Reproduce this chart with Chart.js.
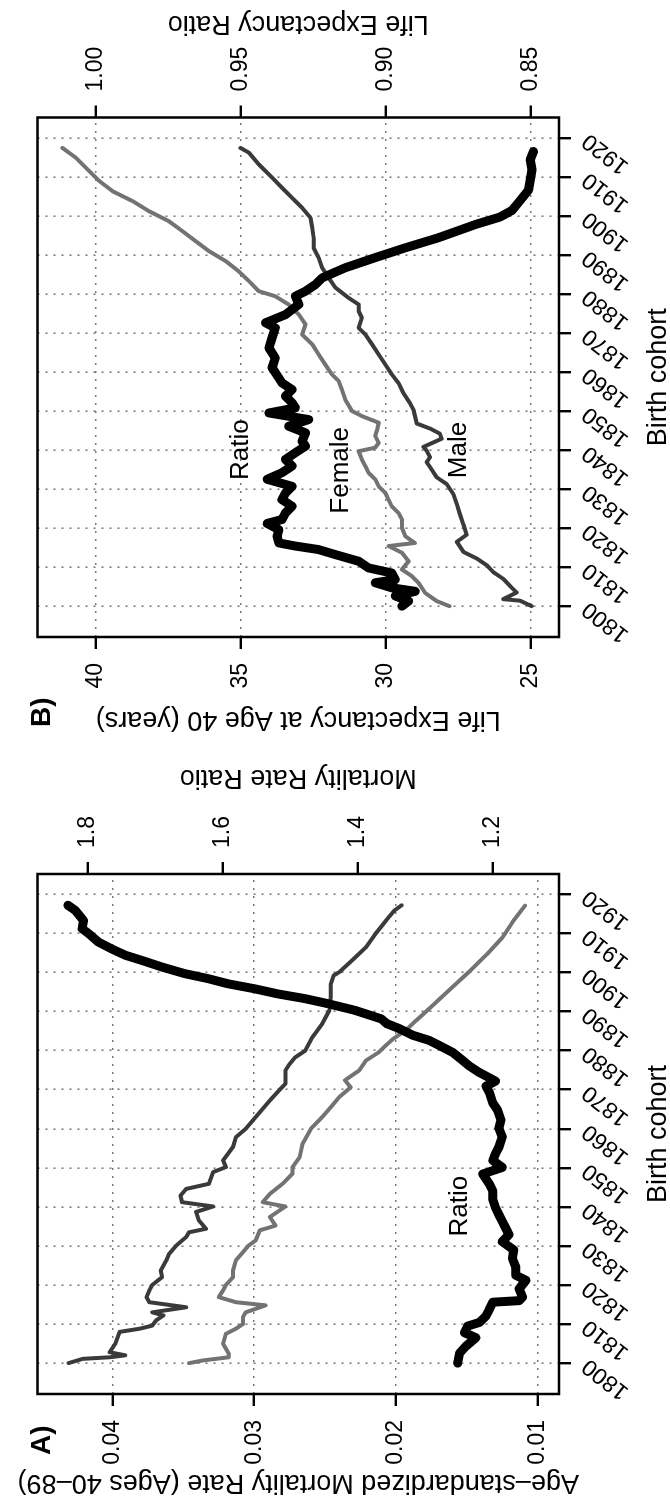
<!DOCTYPE html>
<html>
<head>
<meta charset="utf-8">
<script src="https://cdn.jsdelivr.net/npm/chart.js@4.4.0/dist/chart.umd.min.js"></script>
<style>
html,body{margin:0;padding:0;background:#fff;overflow:hidden;width:670px;height:1503px;}
#land{position:absolute;left:0;top:0;width:1503px;height:670px;transform-origin:0 0;transform:translate(0,1503px) rotate(-90deg);background:#fff;}
#land canvas{position:absolute;top:0;}
#cA{left:0;}
#cB{left:751px;}
</style>
</head>
<body>
<div id="land">
<canvas id="cA" width="751" height="670"></canvas>
<canvas id="cB" width="752" height="670"></canvas>
</div>
<script>
// ---------- tick labels ----------
const yearTicks = [1800,1810,1820,1830,1840,1850,1860,1870,1880,1890,1900,1910,1920];
const mortTicks = [0.01,0.02,0.03,0.04];
const mrrTicks = [1.2,1.4,1.6,1.8];
const leTicks = [25,30,35,40];
const lerTicks = [0.85,0.90,0.95,1.00];

// ---------- Panel A: age-standardized mortality rate (ages 40-89) ----------
const maleMortality = [[1800,0.0431],[1801.1,0.0421],[1801.5,0.0402],[1802,0.0391],[1802.8,0.0402],[1805,0.0398],[1808,0.0395],[1808.8,0.0381],[1809.6,0.0372],[1811,0.0369],[1812.2,0.0364],[1813,0.0372],[1814.3,0.0348],[1815.6,0.0374],[1816.9,0.0376],[1818.6,0.0374],[1820,0.0372],[1822,0.0365],[1823.7,0.0366],[1826.3,0.0362],[1828,0.0360],[1830.1,0.0355],[1832.3,0.0348],[1833.5,0.0346],[1834.4,0.0334],[1836.5,0.0339],[1838.7,0.0341],[1840.1,0.0329],[1841.2,0.0351],[1842.9,0.0352],[1844.6,0.0348],[1845.9,0.0332],[1848.9,0.0329],[1850.2,0.0320],[1851.9,0.0322],[1855.3,0.0315],[1857.8,0.0313],[1860,0.0306],[1863,0.0299],[1865.1,0.0294],[1867.2,0.0289],[1870,0.0282],[1871.5,0.0278],[1874.9,0.0278],[1876.6,0.0275],[1878.3,0.0271],[1880,0.0264],[1883.4,0.0259],[1886.9,0.0252],[1890.3,0.0247],[1893.7,0.0246],[1897.1,0.0246],[1899.2,0.0244],[1900.1,0.0240],[1903.1,0.0231],[1906.5,0.0221],[1910.1,0.0214],[1913.3,0.0207],[1915.9,0.0201],[1917.2,0.0196]];
const femaleMortality = [[1800,0.0346],[1800.7,0.0336],[1801.5,0.0318],[1802.4,0.0318],[1805,0.0322],[1807.5,0.0320],[1808.8,0.0313],[1810,0.0308],[1811.8,0.0308],[1813,0.0306],[1814.8,0.0292],[1815.6,0.0313],[1816.9,0.0325],[1818.6,0.0322],[1820,0.0320],[1822,0.0315],[1823.7,0.0315],[1826.3,0.0313],[1828.4,0.0308],[1830.1,0.0304],[1831.4,0.0299],[1834,0.0296],[1835.2,0.0285],[1837.4,0.0289],[1840.1,0.0278],[1841.2,0.0294],[1843.3,0.0289],[1845.9,0.0280],[1848.5,0.0273],[1850.2,0.0273],[1852.7,0.0268],[1856.1,0.0266],[1860,0.0260],[1863,0.0252],[1865.5,0.0246],[1868.1,0.0240],[1870.6,0.0232],[1872.4,0.0236],[1874.9,0.0226],[1877.5,0.0221],[1879.6,0.0212],[1881.7,0.0206],[1883,0.0202],[1885.2,0.0193],[1887.3,0.0187],[1888.6,0.0183],[1891.6,0.0174],[1896,0.0161],[1900.3,0.0148],[1904.6,0.0136],[1908.9,0.0125],[1913.3,0.0117],[1917.1,0.0109]];
const mortalityRatio = [[1800,1.252],[1802.6,1.249],[1804.3,1.240],[1806.5,1.225],[1807.8,1.242],[1809.5,1.237],[1810.4,1.220],[1812.1,1.210],[1813.8,1.205],[1815.6,1.200],[1816,1.161],[1816.9,1.156],[1819,1.161],[1821.2,1.151],[1822.5,1.166],[1824.6,1.166],[1826.8,1.171],[1829,1.169],[1831.1,1.186],[1832.9,1.176],[1834.6,1.181],[1836.3,1.186],[1838,1.191],[1839.8,1.196],[1841.9,1.200],[1844.1,1.200],[1845.8,1.205],[1848.4,1.215],[1850.1,1.186],[1851.9,1.200],[1853.6,1.196],[1855.3,1.191],[1857.9,1.186],[1860.1,1.191],[1862.2,1.188],[1864.8,1.193],[1866.6,1.200],[1869.2,1.205],[1870.9,1.210],[1872.2,1.196],[1874.4,1.220],[1876.1,1.235],[1877.8,1.247],[1879.5,1.259],[1881.3,1.279],[1882.6,1.294],[1883.9,1.318],[1885.6,1.338],[1886.9,1.357],[1888.1,1.365],[1890.3,1.404],[1892,1.444],[1893.3,1.478],[1894.5,1.518],[1895.8,1.552],[1897.1,1.592],[1898.4,1.621],[1899.7,1.656],[1901.4,1.690],[1903.1,1.720],[1904.4,1.744],[1906,1.764],[1907.8,1.784],[1909.9,1.798],[1911.2,1.808],[1913.3,1.806],[1915.9,1.818],[1917.2,1.829]];

// ---------- Panel B: life expectancy at age 40 (years) ----------
const maleLifeExp = [[1800,24.98],[1801.4,25.38],[1801.8,25.96],[1803.5,25.50],[1805.2,25.73],[1807,25.96],[1808.7,26.30],[1810.5,26.53],[1812.2,26.87],[1813.9,27.33],[1816.5,27.56],[1818.3,27.22],[1820.9,27.33],[1823.5,27.45],[1826.1,27.56],[1828.7,27.68],[1831.3,27.91],[1833,28.25],[1835.6,28.48],[1836.9,28.60],[1838.2,28.48],[1839.9,28.60],[1840.8,28.71],[1842.9,28.08],[1844.2,28.14],[1845.5,28.48],[1846.8,28.94],[1850.3,29.05],[1852,29.17],[1854.6,29.40],[1857.2,29.57],[1859.4,29.80],[1861.9,30.02],[1864.5,30.25],[1867.1,30.48],[1869.6,30.71],[1871.3,30.94],[1873.9,30.83],[1875.6,30.94],[1877.3,30.94],[1879,31.29],[1881.6,31.74],[1884.1,31.97],[1886.7,32.20],[1889.3,32.32],[1891.8,32.49],[1894.4,32.49],[1896.9,32.54],[1899.5,32.60],[1902.1,32.89],[1904.6,33.23],[1907.2,33.58],[1909.8,33.92],[1913.2,34.38],[1916.2,34.72],[1917.4,35.01]];
const femaleLifeExp = [[1800,27.81],[1801.3,28.25],[1803.4,28.65],[1806,28.88],[1807.7,29.11],[1809.4,29.45],[1811.5,29.22],[1813.7,29.45],[1815.4,29.91],[1816.2,29.00],[1817.9,29.33],[1820.1,29.45],[1822.2,29.45],[1823.9,29.57],[1825.6,29.80],[1827.3,29.91],[1829,30.02],[1830.7,30.25],[1832.5,30.37],[1834.2,30.60],[1835.9,30.71],[1837.6,30.83],[1839.7,30.94],[1840.6,30.37],[1841.8,30.25],[1843.6,30.37],[1845.3,30.30],[1847,30.25],[1848.7,30.83],[1850,31.17],[1852.9,31.40],[1855.5,31.52],[1857.7,31.63],[1859.4,31.86],[1861.9,32.09],[1864.5,32.32],[1867.1,32.54],[1869.6,32.89],[1872.2,32.77],[1874.7,33.00],[1877.3,33.35],[1879.4,33.81],[1880.7,34.38],[1883.3,34.72],[1885.8,35.07],[1888.4,35.52],[1891,36.10],[1893.5,36.55],[1896.1,37.01],[1898.6,37.47],[1901.2,38.16],[1903.8,38.73],[1906.3,39.41],[1908.9,39.87],[1911.5,40.22],[1914.9,40.68],[1917.4,41.14]];
const lifeExpRatio = [[1800,0.8945],[1801.3,0.8922],[1802.6,0.8968],[1803.8,0.8899],[1804.7,0.8980],[1806,0.9037],[1806.8,0.8968],[1808.5,0.8980],[1809.8,0.9060],[1811.5,0.9094],[1813.2,0.9174],[1814.5,0.9232],[1815.4,0.9312],[1816.2,0.9369],[1817.9,0.9375],[1819.6,0.9369],[1821.2,0.9409],[1822.2,0.9358],[1823.9,0.9346],[1825.6,0.9323],[1827.3,0.9358],[1829,0.9346],[1830.7,0.9323],[1832.5,0.9409],[1834.2,0.9358],[1835.9,0.9323],[1837.6,0.9346],[1839.3,0.9312],[1841,0.9277],[1842.3,0.9289],[1844.4,0.9277],[1846.1,0.9335],[1847.8,0.9266],[1849.5,0.9403],[1850.8,0.9312],[1852.1,0.9323],[1853.8,0.9346],[1855.5,0.9323],[1857.2,0.9358],[1858.5,0.9369],[1861.1,0.9392],[1863.6,0.9381],[1866.2,0.9403],[1868.8,0.9392],[1871.3,0.9381],[1872.6,0.9415],[1874.7,0.9346],[1877.3,0.9300],[1879.4,0.9312],[1880.7,0.9277],[1882.4,0.9243],[1884.1,0.9220],[1886.7,0.9140],[1889.3,0.9037],[1891.8,0.8934],[1894.4,0.8819],[1897.9,0.8687],[1899.7,0.8607],[1901.4,0.8566],[1904,0.8537],[1906.6,0.8509],[1909.2,0.8503],[1911.8,0.8497],[1914.4,0.8503],[1916.5,0.8492]];

// ---------- styling ----------
const FONT = '"Liberation Sans", Arial, Helvetica, sans-serif';
Chart.defaults.font.family = FONT;
Chart.defaults.color = '#000';
const MALE_COL = '#3a3a3a', FEMALE_COL = '#737373', RATIO_COL = '#000000';
const TICK_SIZE = 23;

const toXY = arr => arr.map(p => ({x: p[0], y: p[1]}));
const ticksFrom = arr => s => { s.ticks = arr.map(v => ({value: v})); };
const fixW = w => s => { s.width = w; };
const fixH = h => s => { s.height = h; };
const grid = (onArea) => ({display:true, drawOnChartArea:onArea, color:'#7a7a7a', lineWidth:1.6, borderDash:[2,6],
  drawTicks:true, tickLength:12, tickColor:'#000', tickWidth:2.4, tickBorderDash:[]});
const border = {display:false, dash:[2,6]};

function line(data, color, width, axis, order){
  return {data: toXY(data), borderColor: color, borderWidth: width, yAxisID: axis, pointRadius: 0,
    tension: 0, fill: false, borderJoinStyle: 'round', borderCapStyle: 'round', order: order};
}

const decor = {
  id: 'decor',
  afterDraw(chart, args, o){
    const {ctx, chartArea: a} = chart;
    ctx.save();
    ctx.fillStyle = '#000';
    ctx.font = '26px ' + FONT;
    ctx.textAlign = 'center';
    ctx.textBaseline = 'middle';
    o.labels.forEach(l => {
      ctx.fillText(l.text, chart.scales.x.getPixelForValue(l.x), chart.scales[l.axis].getPixelForValue(l.y));
    });
    ctx.strokeStyle = '#000';
    ctx.lineWidth = 2.5;
    ctx.strokeRect(a.left, a.top, a.right - a.left, a.bottom - a.top);
    ctx.font = 'bold 28px ' + FONT;
    ctx.textAlign = 'left';
    ctx.textBaseline = 'alphabetic';
    ctx.fillText(o.letter, o.letterX, o.letterY);
    ctx.font = '27px ' + FONT;
    ctx.textAlign = 'center';
    ctx.translate(o.rightBase, (a.top + a.bottom) / 2);
    ctx.rotate(-Math.PI / 2);
    ctx.fillText(o.rightTitle, 0, 0);
    ctx.restore();
  }
};

function makePanel(id, cfg){
  new Chart(document.getElementById(id), {
    type: 'line',
    data: {datasets: cfg.datasets},
    options: {
      responsive: false, animation: false, devicePixelRatio: 1,
      layout: {padding: {top: 37.5, left: 0, right: 0, bottom: 0}},
      plugins: {legend: {display: false}, tooltip: {enabled: false}, decor: cfg.decor},
      scales: {
        x: {type: 'linear', position: 'bottom', min: 1792.1, max: 1925.2,
          afterBuildTicks: ticksFrom(yearTicks), afterFit: fixH(111),
          grid: grid(true), border: border,
          ticks: {autoSkip: false, minRotation: 52, maxRotation: 52, padding: 6, font: {size: TICK_SIZE}, color: '#000',
            callback: v => String(v)},
          title: {display: true, text: 'Birth cohort', font: {size: 27}, color: '#000', padding: {top: 0, bottom: -5}}},
        y: {type: 'linear', position: 'left', min: cfg.yMin, max: cfg.yMax,
          afterBuildTicks: ticksFrom(cfg.yTicks), afterFit: fixW(cfg.leftW),
          grid: grid(true), border: border,
          ticks: {padding: 14, font: {size: TICK_SIZE}, color: '#000', callback: cfg.yFmt},
          title: {display: true, text: cfg.yTitle, font: {size: 27}, color: '#000', padding: {top: cfg.yTitlePad, bottom: 0}}},
        y2: {type: 'linear', position: 'right', min: cfg.y2Min, max: cfg.y2Max,
          afterBuildTicks: ticksFrom(cfg.y2Ticks), afterFit: fixW(cfg.rightW),
          grid: grid(false), border: border,
          ticks: {padding: 14, font: {size: TICK_SIZE}, color: '#000', callback: cfg.y2Fmt}}
      }
    },
    plugins: [decor]
  });
}

makePanel('cA', {
  datasets: [
    line(maleMortality, MALE_COL, 4, 'y', 3),
    line(femaleMortality, FEMALE_COL, 4, 'y', 2),
    line(mortalityRatio, RATIO_COL, 9, 'y2', 1)
  ],
  yMin: 0.0085, yMax: 0.04529, yTicks: mortTicks, yFmt: v => v.toFixed(2), leftW: 109,
  yTitle: 'Age\u2013standardized Mortality Rate (Ages 40\u201389)', yTitlePad: 4.4,
  y2Min: 1.102, y2Max: 1.874, y2Ticks: mrrTicks, y2Fmt: v => v.toFixed(1), rightW: 122,
  decor: {letter: 'A)', letterX: 48, letterY: 50, rightTitle: 'Mortality Rate Ratio', rightBase: 733,
    labels: [{text: 'Ratio', x: 1840.2, y: 1.249, axis: 'y2'}]}
});

makePanel('cB', {
  datasets: [
    line(maleLifeExp, MALE_COL, 4, 'y', 3),
    line(femaleLifeExp, FEMALE_COL, 4, 'y', 2),
    line(lifeExpRatio, RATIO_COL, 9, 'y2', 1)
  ],
  yMin: 24.04, yMax: 42.0, yTicks: leTicks, yFmt: v => String(v), leftW: 115,
  yTitle: 'Life Expectancy at Age 40 (years)', yTitlePad: 16.4,
  y2Min: 0.8404, y2Max: 1.02, y2Ticks: lerTicks, y2Fmt: v => v.toFixed(2), rightW: 117.5,
  decor: {letter: 'B)', letterX: 25, letterY: 50, rightTitle: 'Life Expectancy Ratio', rightBase: 736,
    labels: [{text: 'Ratio', x: 1840.1, y: 35.0, axis: 'y'}, {text: 'Female', x: 1834.8, y: 31.54, axis: 'y'},
      {text: 'Male', x: 1840, y: 27.5, axis: 'y'}]}
});
</script>
</body>
</html>
